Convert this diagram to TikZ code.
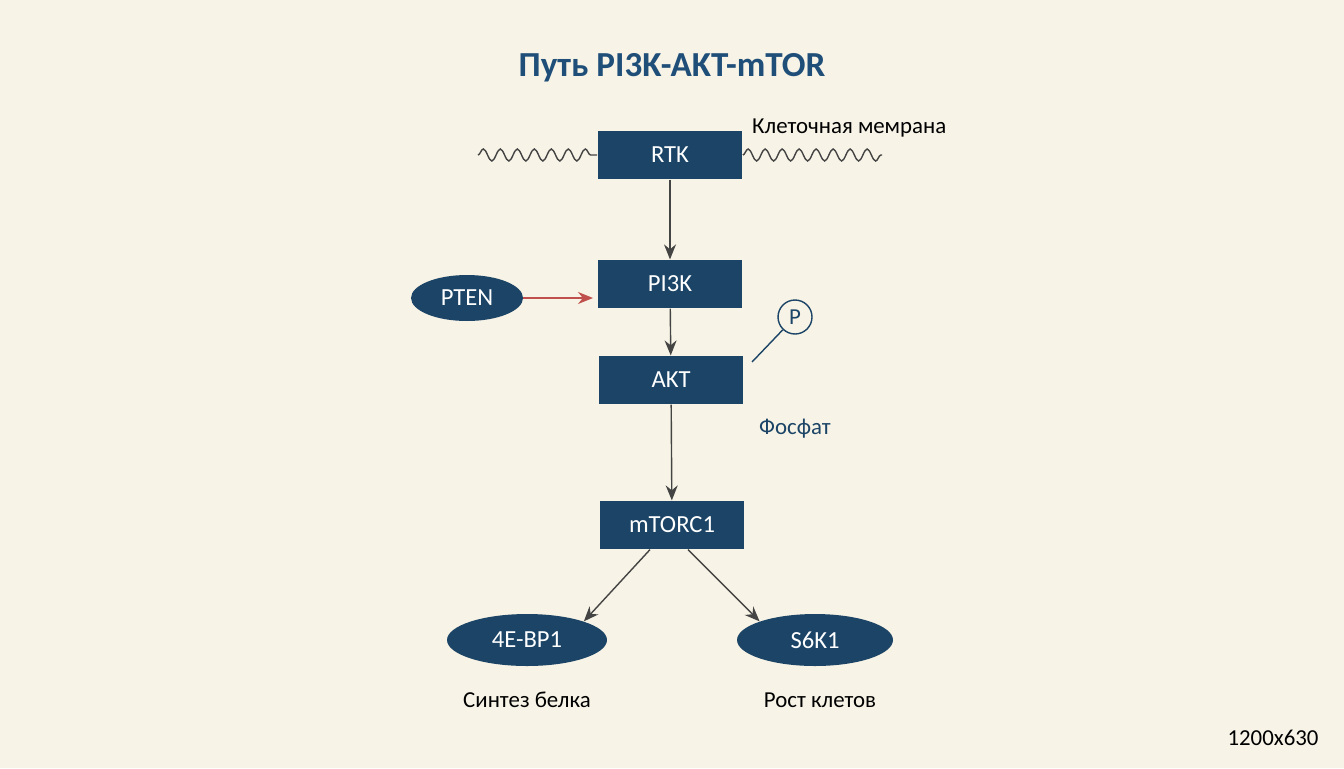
\documentclass[tikz,border=0pt]{standalone}
\usepackage{fontspec}
\setmainfont{Carlito}
\usetikzlibrary{shapes, arrows.meta, positioning, decorations.pathmorphing}
\definecolor{bgcream}{HTML}{F7F3E6}
\definecolor{darkblue}{HTML}{1B4466}
\definecolor{titleblue}{HTML}{1F4E79}
\definecolor{inhibred}{HTML}{C0504D}
\definecolor{arrowgray}{HTML}{444444}
\begin{document}
\begin{tikzpicture}[x=0.02cm, y=-0.02cm,
    protein/.style={rectangle, fill=darkblue, text=white, minimum width=2.9cm, minimum height=0.97cm, font=\fontsize{14}{16}\selectfont},
    factor/.style={ellipse, fill=darkblue, text=white, font=\fontsize{14}{16}\selectfont},
    label/.style={font=\fontsize{13}{15}\selectfont},
    arrow/.style={-{Stealth[length=3mm,width=2.4mm]}, thick, arrowgray},
    wave/.style={decorate, decoration={snake, amplitude=1.2mm, segment length=3.4mm}, thick, arrowgray}
]
    \fill[bgcream] (0,0) rectangle (1344,768);

    % Title
    \node[font=\fontsize{20}{24}\selectfont\bfseries, text=titleblue] (title) at (672,68) {Путь PI3K-AKT-mTOR};

    % Membrane
    \coordinate (wl) at (478,155);
    \coordinate (wr) at (882,155);
    \node[protein] (rtk) at (670,155) {RTK};
    \draw[wave] (wl) -- (rtk.west);
    \draw[wave] (rtk.east) -- (wr);
    \node[label, anchor=west] (membrane) at (746,128) {Клеточная мемрана};

    % Main chain
    \node[protein] (pi3k) at (670,284) {PI3K};
    \node[protein] (akt) at (671,380) {AKT};
    \node[protein] (mtorc) at (672,525) {mTORC1};
    \node[factor, minimum width=2.24cm, minimum height=0.92cm] (pten) at (467,298) {PTEN};

    \draw[arrow] (rtk) -- (pi3k);
    \draw[arrow] (pi3k) -- (akt);
    \draw[arrow] (akt) -- (mtorc);
    \draw[arrow, inhibred] (pten) -- ++(126,0);

    % Phosphate
    \node[circle, draw=darkblue, thick, fill=bgcream, minimum size=0.68cm, inner sep=0pt, font=\fontsize{13}{15}\selectfont, text=darkblue] (phos) at (795,317) {P};
    \coordinate (plink) at (752,362);
    \draw[thick, darkblue] (plink) -- (phos);
    \node[label, text=darkblue] (phoslabel) at (795,429) {Фосфат};

    % Effectors
    \node[factor, minimum width=3.2cm, minimum height=1.04cm] (ebp) at (527,640) {4E-BP1};
    \node[factor, minimum width=3.12cm, minimum height=1.04cm] (s6k) at (815,640) {S6K1};
    \draw[arrow] ([xshift=-0.44cm]mtorc.south) -- (ebp.north east);
    \draw[arrow] ([xshift=0.32cm]mtorc.south) -- (s6k.north west);

    \node[label] (synth) at (527,700) {Синтез белка};
    \node[label] (growth) at (820,700) {Рост клетов};
    \node[label] (size) at (1273,738) {1200x630};
\end{tikzpicture}
\end{document}
